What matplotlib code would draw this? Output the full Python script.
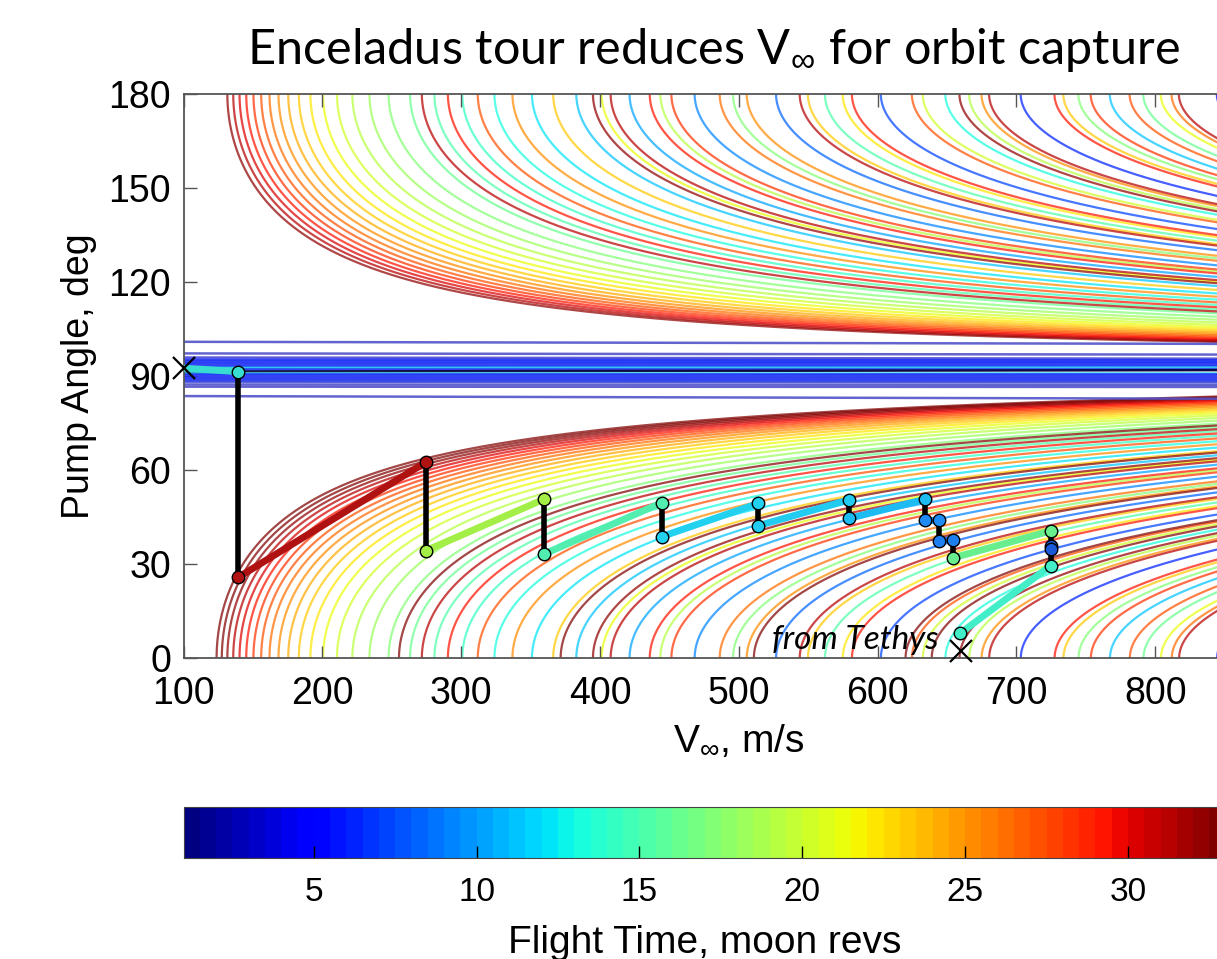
import numpy as np
import matplotlib.pyplot as plt
from matplotlib.colors import Normalize
from matplotlib.cm import ScalarMappable
from math import gcd

plt.rcParams['font.family'] = ['Liberation Sans', 'DejaVu Sans']
plt.rcParams['mathtext.fontset'] = 'custom'
plt.rcParams['mathtext.rm'] = 'Liberation Sans'
plt.rcParams['mathtext.it'] = 'Liberation Sans:italic'

# ---------------- Resonance contours ----------------
V_MOON = 12630.0          # Enceladus orbital speed, m/s
n_max_low = 34            # longest flight time drawn, pump angle < 90
n_max_up = 32             # longest flight time drawn, pump angle > 90
v_range = (100, 900)      # V-infinity range, m/s
c_range = (1, 33)         # colour scale, moon revs

# ---------------- Band of lines near 90 deg ----------------
band_left = [100.9, 97.2, 95.9, 95.2, 94.6, 94.0, 93.4, 92.8, 92.6, 92.2,
             91.4, 90.9, 90.6, 90.0, 89.4, 88.8, 88.2, 87.3, 86.6, 83.6]
band_right = [100.2, 96.8, 95.5, 95.0, 94.5, 94.0, 93.4, 92.9, 92.7, 92.2,
              91.9, 90.9, 90.6, 90.0, 89.4, 88.8, 88.0, 87.2, 86.5, 82.7]
band_color = ['#5353c9', '#5353c9', '#4a4ad8', '#1e2cf4', '#1a30f6', '#1a2cf6',
              '#1e30f4', '#1a2cf6', '#35d2f2', '#1e30f4', '#000030', '#35d2f2',
              '#1a2cf6', '#1e30f4', '#1a2cf6', '#1e30f4', '#3a4ae0', '#5353c9',
              '#5353c9', '#5353c9']

# ---------------- Tour ----------------
# flybys: V-infinity and pump angle before / after
flyby_v = [139.4, 274.5, 359.6, 444.5, 514.2, 579.5, 634.2, 644.2, 654.3, 724.6]
flyby_hi = [91.4, 62.5, 50.7, 49.6, 49.4, 50.5, 50.7, 44.1, 37.7, 40.6]
flyby_lo = [25.8, 34.3, 33.2, 38.8, 42.3, 44.6, 44.1, 37.5, 32.0, 29.5]
# leg i goes from bottom of flyby i to top of flyby i+1
leg_color = ['#b01212', '#a4ee48', '#52eeb0', '#22d0f0', '#22ccf0',
             '#1cbcf2', '#1e8cf4', '#1e80f0', '#68ee8c']
start_pt = (659.6, 8.0)     # arrival from Tethys
start_x = (660.0, 2.3)
end_x = (100.0, 92.5)
arrive_color = '#42eec8'
depart_color = '#38dcd0'
extra_v = [724.6, 724.6]
extra_a = [35.9, 34.8]

fig = plt.figure(figsize=(12.17, 9.59), dpi=100)
ax = fig.add_axes([183.5 / 1217, (959 - 658.3) / 959,
                   (1294 - 183.5) / 1217, (658.3 - 93.7) / 959])
cmap = plt.get_cmap('jet', 64)
norm = Normalize(*c_range)

def pump_curve(n, m):
    t = n / m
    vsq = 2.0 - t ** (-2.0 / 3.0)
    vmin = abs(np.sqrt(vsq) - 1.0)
    s = np.linspace(0, 1, 600)
    v = vmin + (v_range[1] / V_MOON - vmin) * s ** 2
    v[0] = vmin
    c = np.clip((vsq - 1.0 - v ** 2) / (2.0 * v), -1, 1)
    return v * V_MOON, np.degrees(np.arccos(c))

for n in range(1, n_max_low + 1):
    for m in range(1, n):
        if gcd(n, m) != 1 or n / m > 1.26:
            continue
        vx, al = pump_curve(n, m)
        ax.plot(vx, al, color=cmap(norm(n)), lw=1.6, alpha=0.72, zorder=1)
for n in range(1, n_max_up + 1):
    for m in range(n + 1, 2 * n + 2):
        if gcd(n, m) != 1 or n / m < 0.83:
            continue
        vx, al = pump_curve(n, m)
        ax.plot(vx, al, color=cmap(norm(n)), lw=1.6, alpha=0.72, zorder=1)

for a0, a1, c in zip(band_left, band_right, band_color):
    ax.plot(v_range, [a0, a1], color=c, lw=1.8, alpha=0.9, zorder=2)

# tour legs
ax.plot([end_x[0], flyby_v[0]], [end_x[1], flyby_hi[0]], color=depart_color,
        lw=5, zorder=4, solid_capstyle='round')
for i, c in enumerate(leg_color):
    ax.plot([flyby_v[i], flyby_v[i + 1]], [flyby_lo[i], flyby_hi[i + 1]],
            color=c, lw=5, zorder=4, solid_capstyle='round')
ax.plot([start_pt[0], flyby_v[-1]], [start_pt[1], flyby_lo[-1]], color=arrive_color,
        lw=5, zorder=4, solid_capstyle='round')
ax.vlines(flyby_v, flyby_lo, flyby_hi, color='black', lw=4, zorder=5)

# tour points
mk = dict(marker='o', ms=9, mec='black', mew=1, ls='none', zorder=6)
ax.plot(flyby_v[0], flyby_hi[0], mfc=depart_color, **mk)
for i, c in enumerate(leg_color):
    ax.plot(flyby_v[i], flyby_lo[i], mfc=c, **mk)
    ax.plot(flyby_v[i + 1], flyby_hi[i + 1], mfc=c, **mk)
ax.plot(extra_v, extra_a, mfc='#1a5ad8', **mk)
ax.plot(flyby_v[-1], flyby_lo[-1], mfc=arrive_color, **mk)
ax.plot(*start_pt, mfc=arrive_color, **mk)
ax.plot(*end_x, marker='x', ms=16, mew=1.6, color='black', zorder=7, clip_on=False)
ax.plot(*start_x, marker='x', ms=16, mew=1.6, color='black', zorder=7, clip_on=False)

ax.text(644, 5.8, 'from Tethys', fontsize=24, style='italic',
        family=['Lato', 'DejaVu Sans'], ha='right', va='center', zorder=8)

ax.set_xlim(*v_range)
ax.set_ylim(0, 180)
ax.set_xticks(range(100, 801, 100))
ax.set_yticks(range(0, 181, 30))
ax.tick_params(direction='in', length=9, width=1, top=True, right=True,
               labelsize=27, colors='#555555', labelcolor='black')
ax.tick_params(axis='y', pad=9)
ax.tick_params(axis='x', pad=13)
for sp in ax.spines.values():
    sp.set_color('#555555')
    sp.set_linewidth(1.3)
ax.set_ylabel('Pump Angle, deg', fontsize=27, labelpad=8)
ax.set_xlabel(r'V$_{\infty}$, m/s', fontsize=28, labelpad=8)

# colorbar
cax = fig.add_axes([183.5 / 1217, (959 - 857.7) / 959,
                    32 * 32.57 / 1217, (857.7 - 807.3) / 959])
cb = fig.colorbar(ScalarMappable(norm=norm, cmap=cmap), cax=cax,
                  orientation='horizontal', ticks=[5, 10, 15, 20, 25, 30])
cb.outline.set_edgecolor('#444444')
cb.ax.tick_params(direction='in', length=9, width=1, labelsize=24, pad=14)
cb.set_label('Flight Time, moon revs', fontsize=28, labelpad=12)

fig.text(713 / 1217, 1 - 50 / 959, r'Enceladus tour reduces V$_{\infty}$ for orbit capture',
         fontsize=35, family=['Lato', 'DejaVu Sans'], ha='center', va='center')

fig.savefig('out.png', dpi=100)
